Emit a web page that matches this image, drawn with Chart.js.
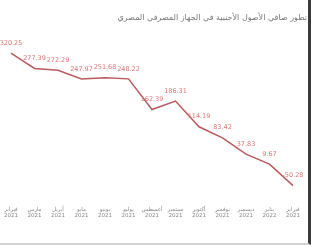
<!DOCTYPE html>
<html>
<head>
<meta charset="utf-8">
<script src="https://cdn.jsdelivr.net/npm/chart.js@4/dist/chart.umd.min.js"></script>
<style>
html, body { margin: 0; padding: 0; background: #fff; }
#wrap { width: 308px; height: 243px; border-right: 3px solid #3a3a3a; border-bottom: 2px solid #d4d4d4; position: relative; }
</style>
</head>
<body>
<div id="wrap"><canvas id="c"></canvas></div>
<script>
var titleText = 'تطور صافي الأصول الأجنبية في الجهاز المصرفي المصري'
var months = ['فبراير','مارس','أبريل','مايو','يونيو','يوليو','أغسطس','سبتمبر','أكتوبر','نوفمبر','ديسمبر','يناير','فبراير']
var years = ['2021','2021','2021','2021','2021','2021','2021','2021','2021','2021','2021','2022','2021']
var values = [320.25,277.39,272.29,247.97,251.68,248.22,162.39,186.31,114.19,83.42,37.83,9.67,-50.28]

var labels = months.map(function(m, i){ return [m, years[i]] })

// draw the value above each point
var valueLabels = {
  id: 'valueLabels',
  afterDatasetsDraw: function(chart){
    var ctx = chart.ctx
    var meta = chart.getDatasetMeta(0)
    ctx.save()
    ctx.font = '6.5px "DejaVu Sans"'
    ctx.fillStyle = '#e07575'
    ctx.textAlign = 'center'
    ctx.textBaseline = 'middle'
    meta.data.forEach(function(p, i){
      ctx.fillText(values[i].toFixed(2), p.x, p.y - 10)
    })
    ctx.restore()
  }
}

var chart = new Chart(document.getElementById('c'), {
  type: 'line',
  data: {
    labels: labels,
    datasets: [{
      data: values,
      borderColor: '#b85a5e',
      borderWidth: 1.5,
      pointRadius: 0,
      tension: 0,
      fill: false
    }]
  },
  options: {
    responsive: true,
    maintainAspectRatio: false,
    animation: false,
    layout: { padding: { left: 6, right: 1, top: 0, bottom: 21 } },
    plugins: {
      legend: { display: false },
      tooltip: { enabled: false },
      title: {
        display: true,
        text: titleText,
        align: 'end',
        color: '#777',
        font: { family: 'DejaVu Sans', size: 8, weight: 'normal' },
        padding: { top: 13, bottom: 2 }
      }
    },
    scales: {
      x: {
        offset: false,
        grid: { display: false },
        border: { display: false },
        ticks: {
          autoSkip: false,
          maxRotation: 0,
          minRotation: 0,
          padding: 4,
          color: '#888',
          font: { family: 'DejaVu Sans', size: 5.5, lineHeight: 1.05 }
        }
      },
      y: {
        position: 'right',
        min: -75,
        max: 400,
        grid: { display: false },
        border: { display: false },
        ticks: { display: false },
        afterFit: function(scale){ scale.width = 14 }
      }
    }
  },
  plugins: [valueLabels]
})
</script>
</body>
</html>
